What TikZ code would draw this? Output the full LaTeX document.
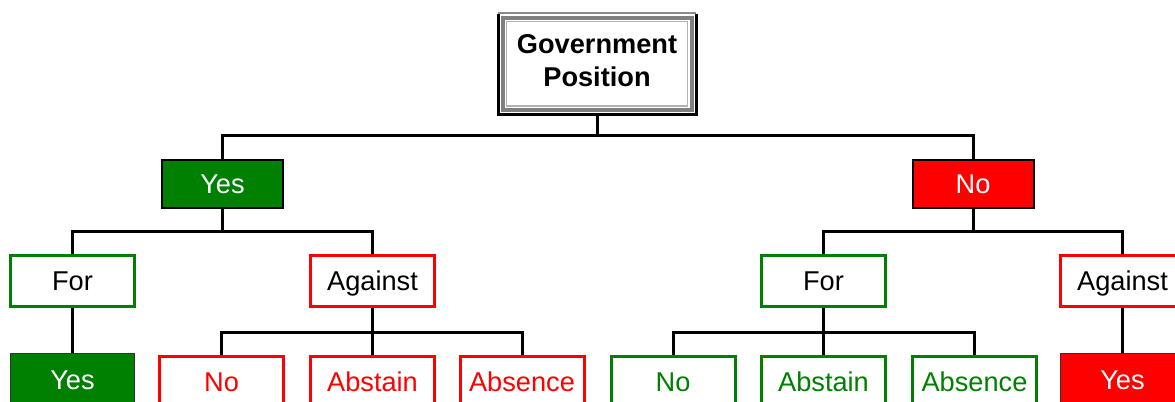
\documentclass[tikz,border=0pt]{standalone}
\usepackage{fontspec}
\setmainfont{Liberation Sans}
\definecolor{vgreen}{RGB}{0,128,0}
\definecolor{vred}{RGB}{255,0,0}
\begin{document}
\begin{tikzpicture}[x=0.5pt,y=-0.5pt,
  conn/.style={line width=1.5pt,draw=black},
  base/.style={rectangle,inner sep=0pt,font=\fontsize{13.6}{15}\selectfont,text height=9.7pt,text depth=0pt},
  topfill/.style={base,minimum width=60.5pt,minimum height=24pt,line width=1pt,draw=black,text=white},
  midbox/.style={base,minimum width=62pt,minimum height=25.5pt,line width=1.5pt,fill=white},
  leafbox/.style={base,minimum width=62pt,minimum height=25.5pt,line width=1.5pt,fill=white},
  leaffill/.style={base,minimum width=62pt,minimum height=26pt,line width=0.6pt,draw=black!80,text=white},
]
\useasboundingbox (0,0) rectangle (1175,402);
\clip (0,0) rectangle (1175,402);
\fill[white] (0,0) rectangle (1175,402);

% Government Position frame
\draw[line width=1.5pt,black] (498,14) -- (498,114.5) -- (696,114.5) -- (696,14);
\draw[line width=1pt,black!45] (498,13) -- (696,13);
\draw[line width=2pt,black!50,fill=white] (502.5,17.5) rectangle (691.5,110);
\draw[line width=0.6pt,black!30] (506.5,21.5) rectangle (687.5,106);
\node[rectangle,inner sep=0pt,font=\fontsize{13.6}{16.5}\selectfont\bfseries,align=center] (gov) at (597,61) {Government\\Position};
\coordinate (govb) at (597,114);

% level 1
\node[topfill,fill=vgreen] (yes1) at (222.5,184) {Yes};
\node[topfill,fill=vred] (no1) at (973,184) {No};

% level 2
\node[midbox,draw=vgreen] (for1) at (72.5,281) {For};
\node[midbox,draw=vred] (ag1) at (372.5,281) {Against};
\node[midbox,draw=vgreen] (for2) at (823.5,281) {For};
\node[midbox,draw=vred] (ag2) at (1122.5,281) {Against};

% level 3
\node[leaffill,fill=vgreen,anchor=north] (yesB1) at (72.5,353) {Yes};
\node[leafbox,draw=vred,text=vred,anchor=north] (noB1) at (221.5,354.5) {No};
\node[leafbox,draw=vred,text=vred,anchor=north] (abB1) at (372.5,354.5) {Abstain};
\node[leafbox,draw=vred,text=vred,anchor=north] (asB1) at (522,354.5) {Absence};
\node[leafbox,draw=vgreen,text=vgreen,anchor=north] (noB2) at (673,354.5) {No};
\node[leafbox,draw=vgreen,text=vgreen,anchor=north] (abB2) at (823.5,354.5) {Abstain};
\node[leafbox,draw=vgreen,text=vgreen,anchor=north] (asB2) at (974.5,354.5) {Absence};
\node[leaffill,fill=vred,anchor=north] (yesB2) at (1122.5,353) {Yes};

% buses
\coordinate (b1) at (597,135);
\coordinate (b2l) at (222.5,231);
\coordinate (b2r) at (973,231);
\coordinate (b3l) at (372.5,332);
\coordinate (b3r) at (823.5,332);

\draw[conn] (govb) -- (b1);
\draw[conn] (b1) -| (yes1.north);
\draw[conn] (b1) -| (no1.north);
\draw[conn] (yes1.south) -- (b2l);
\draw[conn] (b2l) -| (for1.north);
\draw[conn] (b2l) -| (ag1.north);
\draw[conn] (no1.south) -- (b2r);
\draw[conn] (b2r) -| (for2.north);
\draw[conn] (b2r) -| (ag2.north);
\draw[conn] (for1.south) -- (yesB1.north);
\draw[conn] (ag1.south) -- (b3l) -- (abB1.north);
\draw[conn] (b3l) -| (noB1.north);
\draw[conn] (b3l) -| (asB1.north);
\draw[conn] (for2.south) -- (b3r) -- (abB2.north);
\draw[conn] (b3r) -| (noB2.north);
\draw[conn] (b3r) -| (asB2.north);
\draw[conn] (ag2.south) -- (yesB2.north);
\end{tikzpicture}
\end{document}
